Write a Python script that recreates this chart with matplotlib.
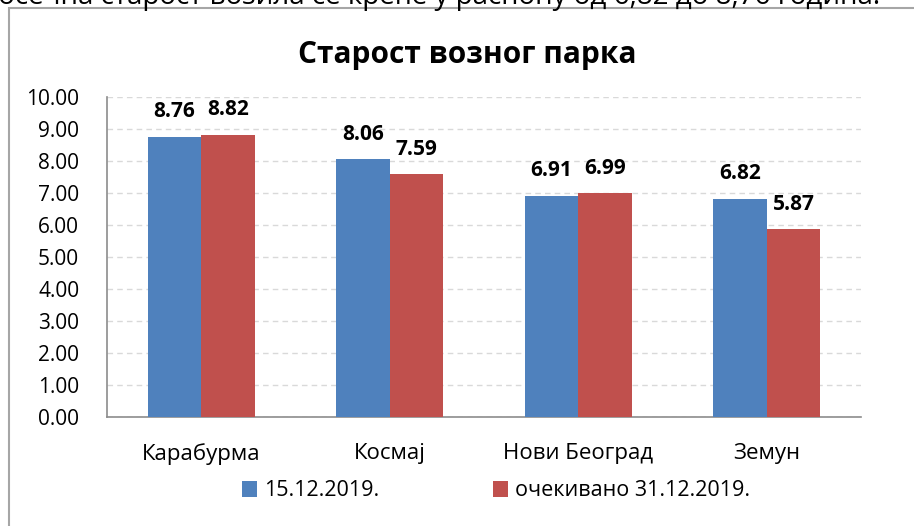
import matplotlib
matplotlib.use('Agg')
import matplotlib.pyplot as plt
from matplotlib.patches import Rectangle, Patch
import numpy as np

plt.rcParams['font.family'] = ['Open Sans', 'DejaVu Sans']

categories = ['Карабурма', 'Космај', 'Нови Београд', 'Земун']
series_names = ['15.12.2019.', 'очекивано 31.12.2019.']
values_dec15 = [8.76, 8.06, 6.91, 6.82]
values_dec31 = [8.82, 7.59, 6.99, 5.87]
colors = ['#4f81bd', '#c0504d']

W, H = 914, 526
fig = plt.figure(figsize=(W / 100, H / 100), dpi=100)

# outer chart frame (runs off the right and bottom edges)
fig.patches.append(Rectangle((9 / W, -0.1), 1.2, 1.1 - 7.5 / H, transform=fig.transFigure,
                             fill=False, edgecolor='#a6a6a6', linewidth=1.5))

# clipped sentence from the document above the chart
fig.text(880 / W, 1 - 4 / H, 'Просечна старост возила се креће у распону од 6,82 до 8,76 година.',
         ha='right', va='baseline', fontsize=20, color='black')

ax = fig.add_axes([107 / W, (H - 417) / H, 754 / W, 320 / H])

x = np.arange(len(categories))
w = 0.284
b1 = ax.bar(x - w / 2, values_dec15, w, color=colors[0], zorder=3)
b2 = ax.bar(x + w / 2, values_dec31, w, color=colors[1], zorder=3)

for bars, vals in [(b1, values_dec15), (b2, values_dec31)]:
    for rect, v in zip(bars, vals):
        ax.annotate('%.2f' % v, xy=(rect.get_x() + rect.get_width() / 2, v),
                    xytext=(0, 18), textcoords='offset points', ha='center', va='center',
                    fontsize=15, fontweight='bold')

ax.set_xlim(-0.5, len(categories) - 0.5)
ax.set_ylim(0, 10)
ax.set_yticks(np.arange(0, 11, 1))
ax.set_yticklabels(['%.2f' % t for t in np.arange(0, 11, 1)], fontsize=15)
ax.set_xticks(x)
ax.set_xticklabels(categories, fontsize=16)
ax.tick_params(axis='y', length=0, pad=20)
ax.tick_params(axis='x', length=0, pad=19)

ax.yaxis.grid(True, linestyle=(0, (4, 3)), color='#d9d9d9', linewidth=1, zorder=0)
ax.set_axisbelow(True)
for s in ['top', 'right']:
    ax.spines[s].set_visible(False)
for s in ['left', 'bottom']:
    ax.spines[s].set_color('#8c8c8c')
    ax.spines[s].set_linewidth(1.2)

fig.text(467 / W, 1 - 55 / H, 'Старост возног парка', ha='center', va='center',
         fontsize=21.5, fontweight='bold')

handles = [Patch(facecolor=c) for c in colors]
fig.legend(handles, series_names, loc='center', bbox_to_anchor=(496 / W, 1 - 491 / H),
           ncol=2, frameon=False, fontsize=15.5, handlelength=0.7, handleheight=0.7,
           handletextpad=0.3, columnspacing=5.3)

fig.savefig('out.png', dpi=100)
